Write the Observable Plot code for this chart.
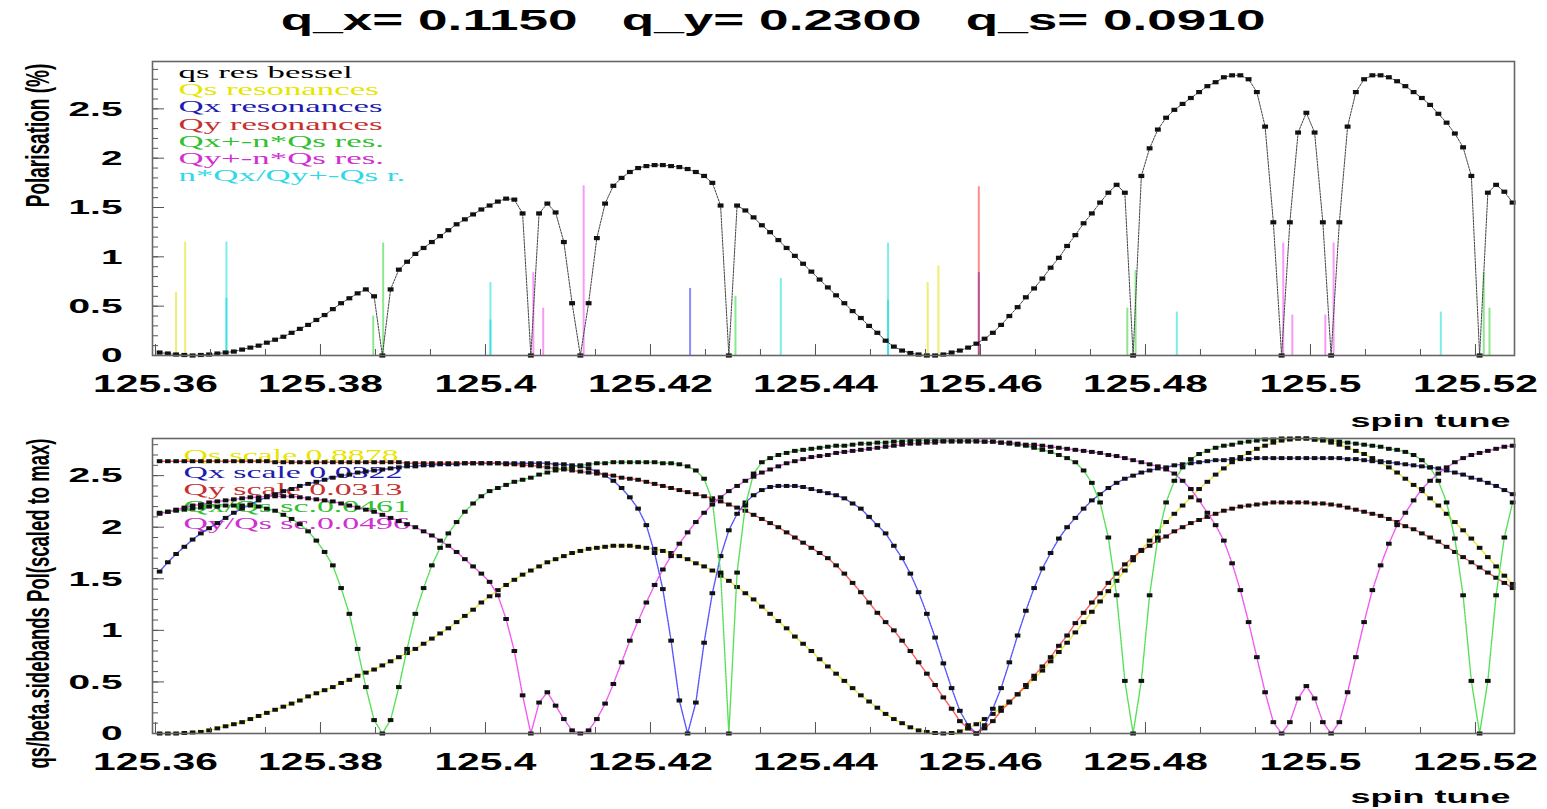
<!DOCTYPE html>
<html><head><meta charset="utf-8">
<script src="https://cdn.jsdelivr.net/npm/d3@7"></script>
<script src="https://cdn.jsdelivr.net/npm/@observablehq/plot@0.6"></script>
<style>
body{margin:0;background:#fff;width:1547px;height:809px;overflow:hidden;position:relative;font-family:"Liberation Sans",Arial,sans-serif}
#title{position:absolute;left:0;top:2px;width:1547px;text-align:center;font:bold 30px "Liberation Sans",Arial,sans-serif;line-height:36px;color:#000}
#title span{display:inline-block;transform:scaleX(1.77);transform-origin:center;white-space:pre}
#top{position:absolute;left:0;top:40px}
#bot{position:absolute;left:0;top:420px}
</style></head><body>
<div id="title"><span>q_x= 0.1150   q_y= 0.2300   q_s= 0.0910</span></div>
<div id="top"></div><div id="bot"></div>
<script>
// ---- grid of spin tune bins ----
const tuneStart = 125.3605, tuneStep = 0.001;
const xTicks = [125.36, 125.38, 125.40, 125.42, 125.44, 125.46, 125.48, 125.50, 125.52];
const yTicks = [0, 0.5, 1, 1.5, 2, 2.5];

// ---- top panel: qs res bessel ----
const qsResBessel = [
0.03,0.02,0.01,0.005,0,0.005,0.01,0.02,0.03,0.04,
0.06,0.08,0.10,0.13,0.16,0.19,0.23,0.27,0.31,0.36,
0.41,0.47,0.53,0.58,0.63,0.67,0.60,0,0.67,0.87,
0.95,1.03,1.09,1.15,1.21,1.27,1.33,1.38,1.43,1.48,
1.52,1.56,1.59,1.58,1.44,0,1.44,1.54,1.45,1.15,
0.53,0,0.53,1.19,1.54,1.72,1.80,1.86,1.90,1.92,
1.93,1.93,1.92,1.91,1.89,1.86,1.82,1.75,1.52,0,
1.52,1.47,1.40,1.32,1.25,1.17,1.09,1.01,0.93,0.85,
0.77,0.69,0.61,0.53,0.45,0.38,0.30,0.23,0.15,0.09,
0.05,0.025,0.01,0,0,0.01,0.03,0.05,0.08,0.12,
0.17,0.23,0.31,0.40,0.49,0.59,0.68,0.78,0.89,0.99,
1.11,1.22,1.34,1.44,1.55,1.65,1.73,1.65,0,1.82,
2.10,2.29,2.41,2.49,2.55,2.61,2.67,2.73,2.77,2.82,
2.84,2.84,2.80,2.67,2.32,1.35,0,1.35,2.26,2.46,
2.26,1.35,0,1.35,2.32,2.67,2.80,2.84,2.84,2.82,
2.78,2.73,2.67,2.61,2.54,2.45,2.36,2.25,2.11,1.82,
0,1.65,1.73,1.66,1.55];

// resonance positions and heights
const qsResX = [125.3625, 125.3636, 125.4536, 125.4549];
const qsResH = [0.64, 1.15, 0.74, 0.91];
const qxResX = [125.4248, 125.4598];
const qxResH = [0.68, 0.84];
const qyResX = [125.4598];
const qyResH = [1.71];
const qxSideX = [125.3864, 125.3876, 125.4303, 125.4778, 125.4788, 125.5210, 125.5217];
const qxSideH = [0.40, 1.14, 0.60, 0.48, 0.86, 0.84, 0.48];
const qySideX = [125.4058, 125.4070, 125.4119, 125.4967, 125.4978, 125.5018, 125.5028];
const qySideH = [0.84, 0.48, 1.72, 1.14, 0.41, 0.41, 1.14];
const nQxQsX = [125.3686, 125.3686, 125.4006, 125.4006, 125.4358, 125.4488, 125.4488, 125.4838, 125.5158];
const nQxQsH = [1.15, 0.58, 0.74, 0.36, 0.78, 1.14, 0.56, 0.44, 0.44];

const topLegend = ["qs res bessel", "Qs resonances", "Qx resonances", "Qy resonances", "Qx+-n*Qs res.", "Qy+-n*Qs res.", "n*Qx/Qy+-Qs r."];

// ---- bottom panel: sidebands scaled to max ----
const qsScaled = [
0,0,0,0.005,0.01,0.015,0.03,0.05,0.07,0.09,
0.11,0.14,0.17,0.20,0.23,0.26,0.29,0.32,0.36,0.39,
0.42,0.45,0.49,0.52,0.56,0.59,0.62,0.66,0.70,0.74,
0.78,0.82,0.87,0.92,0.97,1.02,1.08,1.14,1.20,1.27,
1.33,1.39,1.44,1.49,1.54,1.58,1.62,1.66,1.69,1.72,
1.75,1.77,1.79,1.80,1.81,1.82,1.82,1.82,1.81,1.80,
1.79,1.77,1.75,1.72,1.69,1.65,1.62,1.58,1.53,1.48,
1.42,1.36,1.30,1.23,1.16,1.09,1.02,0.94,0.87,0.80,
0.72,0.65,0.58,0.51,0.44,0.37,0.31,0.25,0.19,0.14,
0.10,0.06,0.03,0.015,0.005,0,0.005,0.02,0.05,0.09,
0.14,0.19,0.25,0.31,0.38,0.45,0.53,0.61,0.70,0.79,
0.88,0.98,1.08,1.18,1.28,1.38,1.48,1.58,1.68,1.78,
1.87,1.96,2.05,2.13,2.21,2.29,2.37,2.44,2.51,2.57,
2.63,2.68,2.72,2.76,2.79,2.82,2.84,2.85,2.86,2.86,
2.85,2.84,2.82,2.80,2.77,2.74,2.71,2.67,2.63,2.58,
2.53,2.47,2.41,2.35,2.28,2.21,2.13,2.05,1.97,1.89,
1.80,1.71,1.62,1.53,1.45];
const qxScaled = [
1.57,1.66,1.74,1.81,1.88,1.94,1.99,2.04,2.09,2.14,
2.18,2.22,2.26,2.29,2.32,2.35,2.37,2.40,2.42,2.44,
2.46,2.48,2.50,2.51,2.53,2.54,2.55,2.56,2.57,2.58,
2.59,2.59,2.60,2.60,2.61,2.61,2.61,2.62,2.62,2.62,
2.62,2.62,2.62,2.62,2.62,2.62,2.62,2.62,2.61,2.61,
2.60,2.59,2.57,2.54,2.50,2.45,2.38,2.29,2.18,2.02,
1.75,1.40,0.90,0.32,0,0.30,0.88,1.36,1.72,1.97,
2.13,2.24,2.31,2.36,2.39,2.40,2.40,2.40,2.39,2.37,
2.35,2.33,2.31,2.28,2.23,2.18,2.10,2.02,1.94,1.82,
1.70,1.55,1.37,1.16,0.93,0.68,0.44,0.22,0.08,0,
0.08,0.24,0.44,0.69,0.95,1.19,1.41,1.60,1.75,1.89,
2.00,2.09,2.18,2.26,2.32,2.38,2.43,2.47,2.50,2.53,
2.55,2.57,2.58,2.60,2.61,2.62,2.63,2.64,2.65,2.65,
2.66,2.66,2.66,2.67,2.67,2.67,2.67,2.67,2.67,2.67,
2.67,2.67,2.67,2.67,2.66,2.66,2.65,2.64,2.64,2.63,
2.62,2.61,2.60,2.59,2.58,2.57,2.55,2.53,2.51,2.48,
2.46,2.43,2.40,2.36,2.32];
const qyScaled = [
2.64,2.64,2.64,2.64,2.64,2.64,2.64,2.64,2.64,2.64,
2.64,2.64,2.64,2.64,2.63,2.63,2.63,2.63,2.63,2.63,
2.63,2.63,2.63,2.63,2.63,2.63,2.63,2.63,2.63,2.63,
2.62,2.62,2.62,2.62,2.62,2.62,2.62,2.62,2.62,2.62,
2.62,2.62,2.61,2.61,2.60,2.60,2.59,2.58,2.57,2.56,
2.55,2.54,2.53,2.52,2.51,2.50,2.48,2.47,2.46,2.44,
2.42,2.40,2.38,2.36,2.34,2.32,2.30,2.28,2.25,2.22,
2.19,2.16,2.12,2.08,2.04,2.00,1.95,1.90,1.85,1.80,
1.75,1.70,1.63,1.55,1.46,1.37,1.27,1.17,1.08,1.00,
0.90,0.80,0.69,0.58,0.47,0.35,0.24,0.12,0.05,0,
0.05,0.12,0.22,0.30,0.38,0.47,0.56,0.65,0.74,0.85,
0.95,1.07,1.17,1.27,1.36,1.46,1.55,1.64,1.71,1.77,
1.82,1.87,1.91,1.96,2.00,2.04,2.07,2.10,2.13,2.16,
2.18,2.20,2.21,2.22,2.23,2.24,2.24,2.24,2.24,2.24,
2.23,2.23,2.22,2.21,2.19,2.17,2.15,2.13,2.11,2.08,
2.05,2.01,1.98,1.94,1.90,1.86,1.81,1.76,1.71,1.66,
1.61,1.56,1.51,1.46,1.41];
const qxQsScaled = [
2.14,2.15,2.16,2.17,2.18,2.19,2.20,2.20,2.21,2.21,
2.21,2.21,2.20,2.18,2.16,2.12,2.08,2.03,1.96,1.87,
1.76,1.63,1.41,1.16,0.82,0.45,0.13,0,0.13,0.45,
0.82,1.16,1.41,1.63,1.80,1.94,2.05,2.15,2.23,2.30,
2.35,2.38,2.41,2.44,2.46,2.48,2.51,2.53,2.55,2.57,
2.58,2.60,2.61,2.62,2.62,2.63,2.63,2.63,2.63,2.63,
2.63,2.62,2.62,2.61,2.59,2.55,2.47,2.26,1.56,0,
1.56,2.21,2.52,2.63,2.67,2.70,2.72,2.74,2.75,2.76,
2.77,2.78,2.79,2.79,2.80,2.81,2.81,2.82,2.82,2.83,
2.83,2.84,2.84,2.84,2.84,2.84,2.84,2.84,2.84,2.84,
2.83,2.83,2.82,2.81,2.80,2.79,2.77,2.75,2.73,2.70,
2.67,2.63,2.55,2.43,2.24,1.90,1.34,0.51,0,0.51,
1.34,1.90,2.24,2.45,2.58,2.66,2.71,2.74,2.77,2.79,
2.80,2.82,2.83,2.84,2.85,2.85,2.86,2.86,2.86,2.86,
2.85,2.85,2.84,2.83,2.82,2.81,2.80,2.79,2.78,2.76,
2.75,2.73,2.70,2.65,2.58,2.45,2.24,1.89,1.34,0.51,
0,0.51,1.34,1.90,2.24];
const qyQsScaled = [
2.13,2.15,2.17,2.19,2.21,2.22,2.24,2.25,2.26,2.27,
2.28,2.29,2.29,2.30,2.30,2.30,2.30,2.29,2.28,2.27,
2.26,2.25,2.23,2.21,2.19,2.17,2.15,2.12,2.09,2.06,
2.03,2.00,1.96,1.92,1.87,1.82,1.76,1.69,1.62,1.55,
1.47,1.34,1.11,0.80,0.37,0,0.30,0.40,0.27,0.14,
0.03,0,0.03,0.14,0.29,0.48,0.69,0.90,1.09,1.27,
1.44,1.59,1.72,1.84,1.95,2.05,2.14,2.22,2.29,2.35,
2.40,2.45,2.49,2.53,2.56,2.59,2.62,2.64,2.66,2.68,
2.69,2.70,2.72,2.73,2.74,2.75,2.76,2.77,2.78,2.79,
2.80,2.81,2.81,2.82,2.82,2.83,2.83,2.83,2.83,2.83,
2.83,2.83,2.82,2.82,2.81,2.80,2.80,2.79,2.78,2.77,
2.76,2.75,2.74,2.73,2.72,2.70,2.69,2.67,2.65,2.63,
2.61,2.59,2.56,2.52,2.45,2.37,2.26,2.14,2.02,1.87,
1.65,1.39,1.08,0.74,0.40,0.11,0,0.11,0.34,0.46,
0.34,0.11,0,0.11,0.40,0.74,1.08,1.39,1.63,1.84,
2.02,2.14,2.26,2.37,2.45,2.52,2.58,2.63,2.67,2.70,
2.72,2.74,2.76,2.78,2.79];
const bottomLegend = ["Qs scale 0.8878", "Qx scale 0.0322", "Qy scale 0.0313", "Qx/Qs sc.0.0461", "Qy/Qs sc.0.0496"];
const topYTitle = "Polarisation (%)";
const botYTitle = "qs/beta.sidebands Pol(scaled to max)";
const xTitle = "spin tune";

// ---- derived tables ----
const tunes = qsResBessel.map((_, i) => +(tuneStart + i * tuneStep).toFixed(4));
const xMin = 125.35964, xMax = 125.52473;
const xMinor = d3.range(0, 25).map(i => 125.36 + i * 0.02 / 3).filter(v => v <= xMax);
const yMinorTop = d3.range(0, 30).map(i => i / 10);
const yMinorBot = d3.range(0, 29).map(i => i / 10);

const rectSymbol = {draw(ctx, size) { const r = Math.sqrt(size / Math.PI); ctx.rect(-1.4 * r, -r, 2.8 * r, 2 * r); ctx.closePath(); }};
const SANS = "Liberation Sans, Arial, sans-serif";
const SERIF = "Liberation Serif, Times New Roman, serif";

function axes(yMinor) {
  return [
    Plot.axisX({anchor: "bottom", ticks: xTicks, tickSize: 0, tickPadding: 19, tickFormat: d => String(d), label: null, fontSize: 24, fontWeight: "bold", fontFamily: SANS, fill: "#000"}),
    Plot.axisX({anchor: "bottom", ticks: xTicks, tickSize: -11, tickFormat: () => "", label: null, stroke: "#555"}),
    Plot.axisX({anchor: "bottom", ticks: xMinor, tickSize: -6, tickFormat: () => "", label: null, stroke: "#555"}),
    Plot.axisY({anchor: "left", ticks: yTicks, tickSize: 0, tickPadding: 30, tickFormat: d => String(d), label: null, fontSize: 21, fontWeight: "bold", fontFamily: SANS, fill: "#000"}),
    Plot.axisY({anchor: "left", ticks: yTicks, tickSize: -12, tickFormat: () => "", label: null, stroke: "#555"}),
    Plot.axisY({anchor: "left", ticks: yMinor, tickSize: -6, tickFormat: () => "", label: null, stroke: "#555"})
  ];
}

// ---- TOP ----
const topData = qsResBessel.map((v, i) => ({x: tunes[i], v}));
const resGroups = [
  [qsResX, qsResH, "#e0e000", 0.55],
  [qxResX, qxResH, "#0000ff", 0.45],
  [qyResX, qyResH, "#ff0000", 0.45],
  [qxSideX, qxSideH, "#00cc00", 0.45],
  [qySideX, qySideH, "#ee00ee", 0.4],
  [nQxQsX, nQxQsH, "#00dada", 0.5]
];
const topLegendColors = ["#000000", "#e6e600", "#1c1cb0", "#c83030", "#30c030", "#d030d0", "#30d8e8"];

const topPlot = Plot.plot({
  width: 1547, height: 390, marginTop: 21, marginBottom: 75, marginLeft: 152, marginRight: 33,
  x: {domain: [xMin, xMax], axis: null},
  y: {domain: [0, 2.98], axis: null},
  style: {background: "transparent", overflow: "visible"},
  marks: [
    ...resGroups.map(([xs, hs, c, o]) => Plot.ruleX(xs.map((x, i) => ({x, h: hs[i]})), {x: "x", y1: 0, y2: "h", stroke: c, strokeWidth: 2, strokeOpacity: o})),
    ...topLegend.map((t, i) => Plot.text([t], {frameAnchor: "top-left", dx: 26, dy: 11 + i * 17.2, text: d => d, textAnchor: "start", lineAnchor: "middle", fill: topLegendColors[i], fontSize: 17, fontFamily: SERIF})),
    Plot.line(topData, {x: "x", y: "v", stroke: "#444", strokeWidth: 1, strokeDasharray: "2,1.2"}),
    Plot.dot(topData, {x: "x", y: "v", symbol: rectSymbol, r: 2.1, fill: "#111", stroke: "none"}),
    ...axes(yMinorTop),
    Plot.frame({stroke: "#666", strokeWidth: 1.6}),
    Plot.text([xTitle], {frameAnchor: "bottom-right", dx: -4, dy: 66, text: d => d, textAnchor: "end", lineAnchor: "middle", fontSize: 18, fontWeight: "bold", fontFamily: SANS, fill: "#000"}),
    Plot.text([topYTitle], {frameAnchor: "left", dx: -114, dy: -73, rotate: -90, text: d => d, textAnchor: "middle", lineAnchor: "middle", fontSize: 19, fontWeight: "bold", fontFamily: SANS, fill: "#000"})
  ]
});
document.getElementById("top").appendChild(topPlot);

// ---- BOTTOM ----
const series = [
  ["Qs", qsScaled, "#e8e800"],
  ["Qx", qxScaled, "#3a3aff"],
  ["Qy", qyScaled, "#ff3a3a"],
  ["QxQs", qxQsScaled, "#3ada3a"],
  ["QyQs", qyQsScaled, "#f03af0"]
];
const bottomLegendColors = ["#e6e600", "#1c1cb0", "#c83030", "#30c030", "#d030d0"];
const botPlot = Plot.plot({
  width: 1547, height: 389, marginTop: 18, marginBottom: 76, marginLeft: 152, marginRight: 33,
  x: {domain: [xMin, xMax], axis: null},
  y: {domain: [0, 2.86], axis: null},
  style: {background: "transparent", overflow: "visible"},
  marks: [
    ...bottomLegend.map((t, i) => Plot.text([t], {frameAnchor: "top-left", dx: 31, dy: 17 + i * 17, text: d => d, textAnchor: "start", lineAnchor: "middle", fill: bottomLegendColors[i], fontSize: 16.5, fontFamily: SERIF})),
    ...series.flatMap(([name, vals, c]) => {
      const d = vals.map((v, i) => ({x: tunes[i], v}));
      return [
        Plot.line(d, {x: "x", y: "v", stroke: c, strokeWidth: 1.4, strokeDasharray: "2,1", strokeOpacity: 0.85}),
        Plot.dot(d, {x: "x", y: "v", symbol: rectSymbol, r: 2.0, fill: "#111", stroke: "none"})
      ];
    }),
    ...axes(yMinorBot),
    Plot.frame({stroke: "#666", strokeWidth: 1.6}),
    Plot.text([xTitle], {frameAnchor: "bottom-right", dx: -4, dy: 64, text: d => d, textAnchor: "end", lineAnchor: "middle", fontSize: 18, fontWeight: "bold", fontFamily: SANS, fill: "#000"}),
    Plot.text([botYTitle], {frameAnchor: "top-left", dx: -114, dy: 0, rotate: -90, text: d => d, textAnchor: "end", lineAnchor: "middle", fontSize: 18.5, fontWeight: "bold", fontFamily: SANS, fill: "#000"})
  ]
});
document.getElementById("bot").appendChild(botPlot);

// ---- horizontal stretch of texts (reference is horizontally stretched) ----
function num(v) { return v != null && /^-?[\d.]+$/.test(v) ? +v : 0; }
function stretchEl(el, sx, sy) {
  const t = el.getAttribute("transform") || "";
  const x = num(el.getAttribute("x")), y = num(el.getAttribute("y"));
  el.setAttribute("transform", `${t} translate(${x},${y}) scale(${sx},${sy}) translate(${-x},${-y})`);
}
const legendSet = new Set([...topLegend, ...bottomLegend]);
for (const svg of [topPlot, botPlot]) {
  svg.querySelectorAll('g[aria-label="x-axis tick label"] text').forEach(el => stretchEl(el, 1.7, 1));
  svg.querySelectorAll('g[aria-label="y-axis tick label"] text').forEach(el => stretchEl(el, 1.85, 1));
  svg.querySelectorAll("text").forEach(el => {
    const s = el.textContent;
    if (legendSet.has(s)) stretchEl(el, 2.05, 1);
    else if (s === xTitle) stretchEl(el, 2.0, 1);
    else if (s === topYTitle || s === botYTitle) stretchEl(el, 1, 1.7);
  });
}
</script>
</body></html>
